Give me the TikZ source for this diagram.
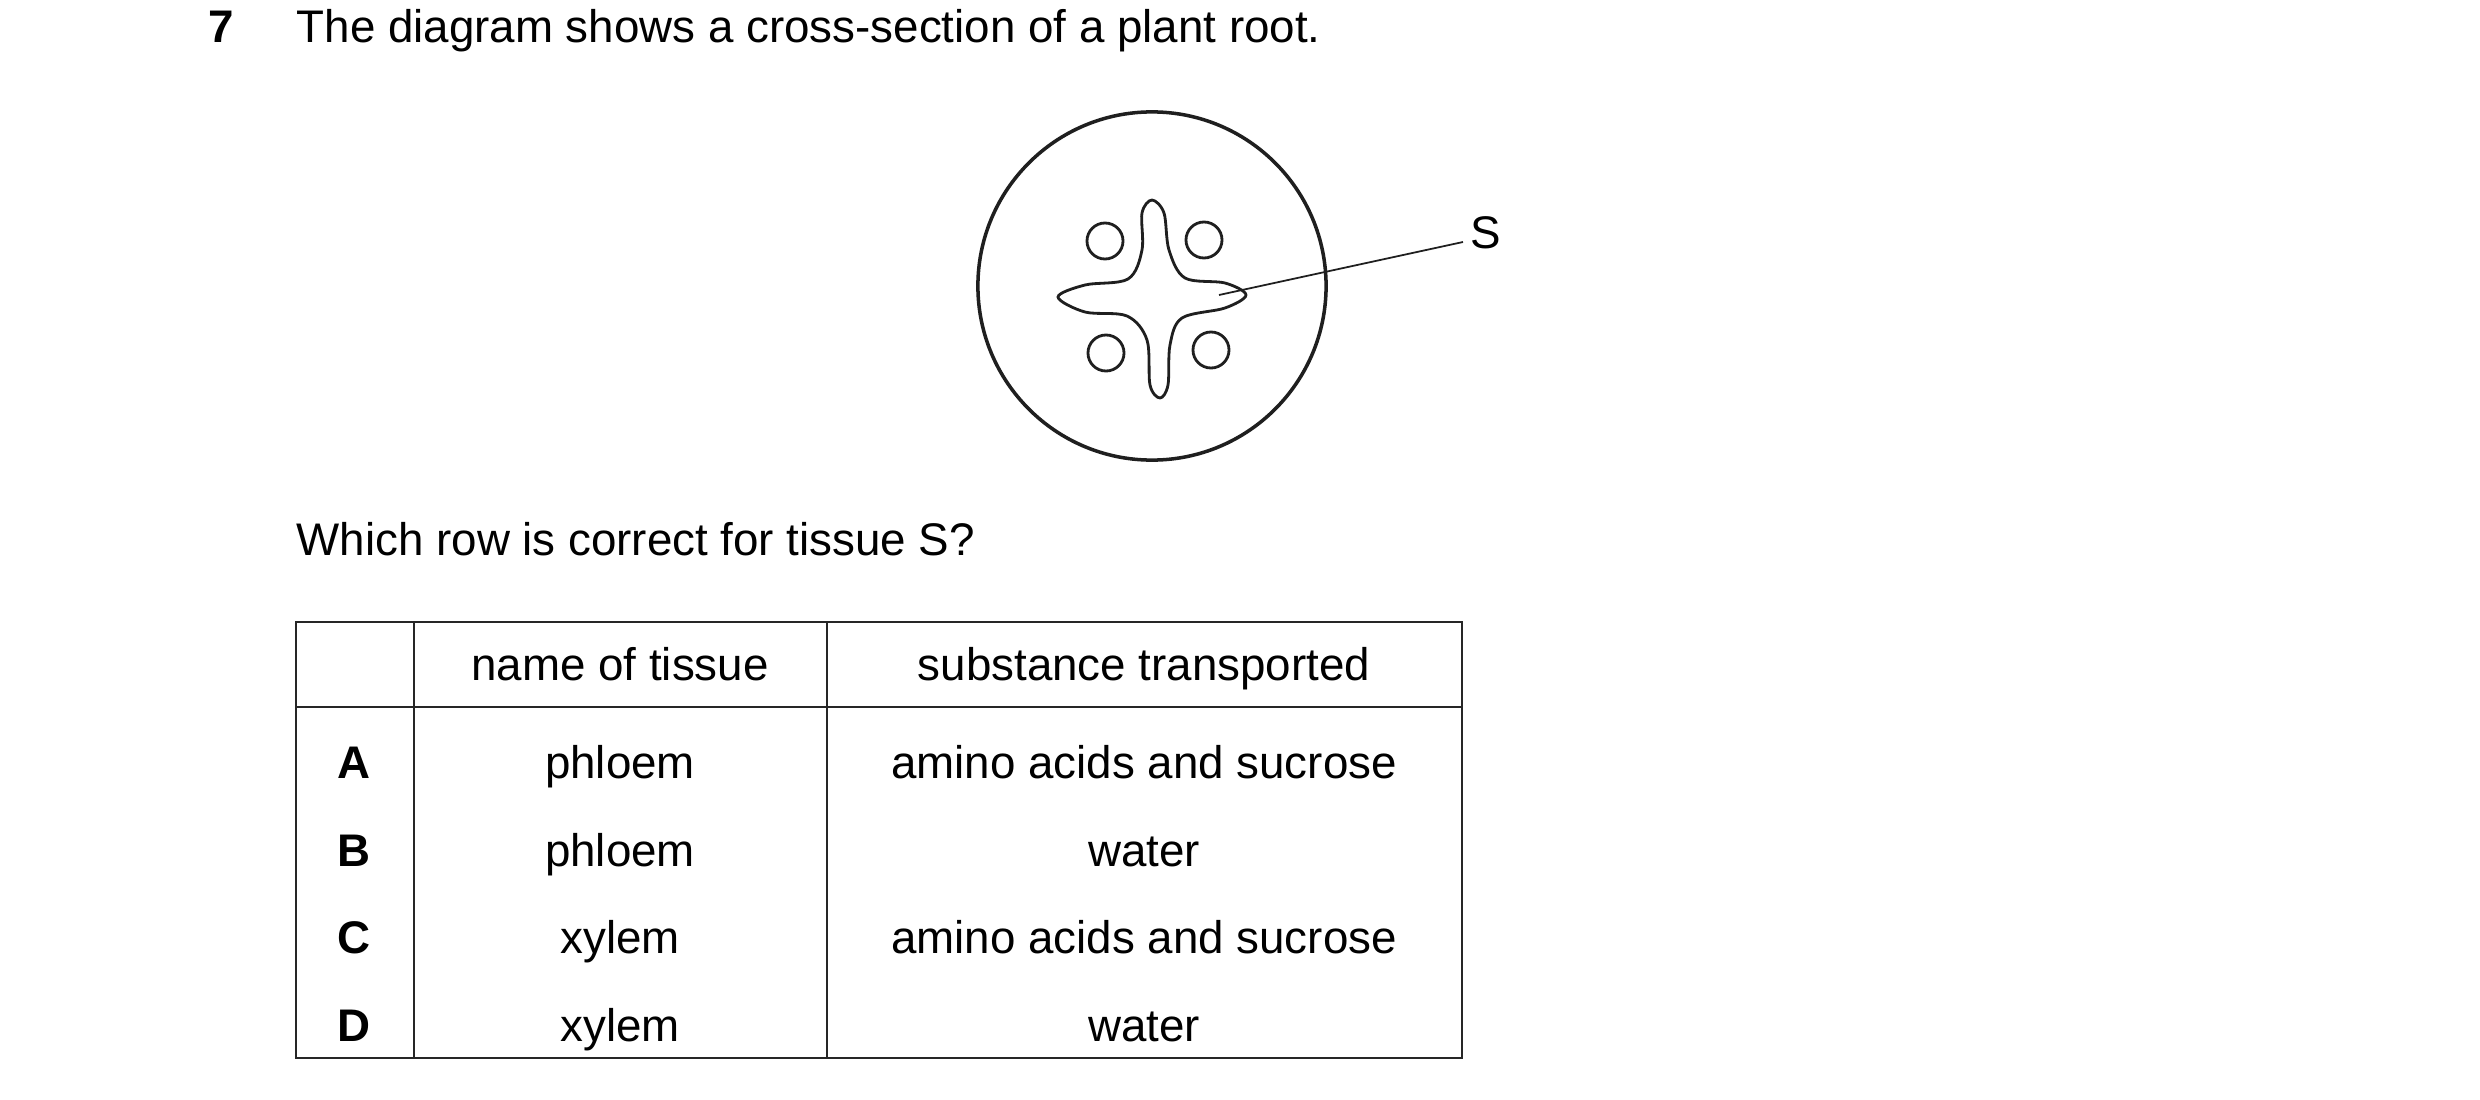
\documentclass[tikz,border=0pt]{standalone}
\usepackage{fontspec}
\setmainfont{Liberation Sans}
\begin{document}
\begin{tikzpicture}[x=0.01cm,y=-0.01cm,
  txt/.style={font=\fontsize{13}{15}\selectfont,inner sep=0pt},
  cell/.style={txt,anchor=base},
  tline/.style={line width=0.6pt,draw=black!85},
  small/.style={line width=0.8pt,draw=black!88}]
\useasboundingbox (0,0) rectangle (2480,1100);
\node[txt,anchor=base west,font=\fontsize{13}{15}\selectfont\bfseries] (q) at (208,42) {7};
\node[txt,anchor=base west] (t1) at (296,42) {The diagram shows a cross-section of a plant root.};
% root
\node[draw=black!88,line width=1pt,circle,minimum size=3.48cm,inner sep=0pt] (root) at (1152,286) {};
\draw[small] plot[smooth cycle,tension=0.55] coordinates {
 (1152,200) (1164,213) (1169,250) (1185,278) (1225,283) (1246,295)
 (1225,308) (1182,318) (1170,345) (1168,385) (1160,398) (1150,385)
 (1147,340) (1127,316) (1085,312) (1058,297) (1085,285) (1128,279)
 (1142,250) (1142,213)};
\foreach \n/\x/\y in {c1/1105/241,c2/1204/240,c3/1106/353,c4/1211/350}
  \node[small,circle,minimum size=0.36cm,inner sep=0pt] (\n) at (\x,\y) {};
\coordinate (sp) at (1219,295);
\node[txt,anchor=west] (S) at (1470,233) {S};
\draw[line width=0.5pt,draw=black!88] (sp) -- (1463,242);
\node[txt,anchor=base west] (t2) at (296,555) {Which row is correct for tissue S?};
% table
\draw[tline] (296,622) rectangle (1462,1058);
\draw[tline] (296,707) -- (1462,707);
\draw[tline] (414,622) -- (414,1058);
\draw[tline] (827,622) -- (827,1058);
\node[cell] (h1) at (620,680) {name of tissue};
\node[cell] (h2) at (1144,680) {substance transported};
\foreach \l/\y/\a/\b in {A/778/phloem/amino acids and sucrose,B/866/phloem/water,C/953/xylem/amino acids and sucrose,D/1041/xylem/water}{
  \node[cell,font=\fontsize{13}{15}\selectfont\bfseries] (l\l) at (354,\y) {\l};
  \node[cell] (n\l) at (620,\y) {\a};
  \node[cell] (s\l) at (1144,\y) {\b};
}
\end{tikzpicture}
\end{document}
